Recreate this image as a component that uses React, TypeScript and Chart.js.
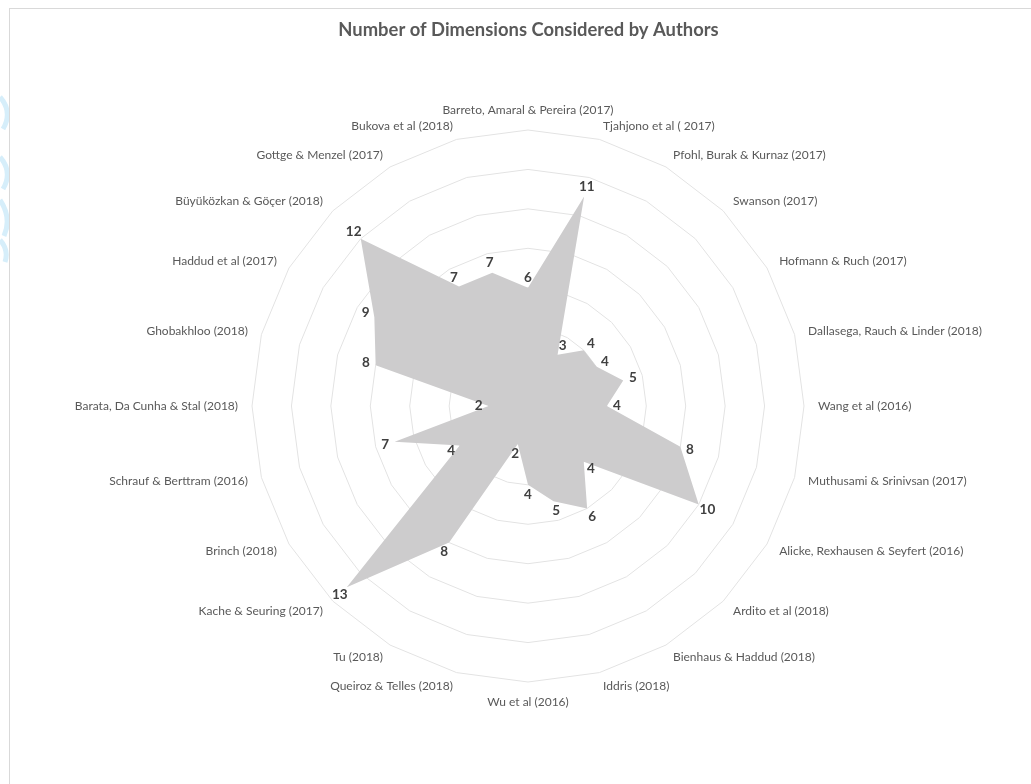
import React, { useEffect, useRef } from "react";
import { Chart, registerables } from "chart.js";

Chart.register(...registerables);

const chartTitle = "Number of Dimensions Considered by Authors";

const authors = [
  "Barreto, Amaral & Pereira (2017)",
  "Tjahjono et al ( 2017)",
  "Pfohl, Burak & Kurnaz (2017)",
  "Swanson (2017)",
  "Hofmann & Ruch (2017)",
  "Dallasega, Rauch & Linder (2018)",
  "Wang et al (2016)",
  "Muthusami & Srinivsan (2017)",
  "Alicke, Rexhausen & Seyfert (2016)",
  "Ardito et al (2018)",
  "Bienhaus & Haddud (2018)",
  "Iddris (2018)",
  "Wu et al (2016)",
  "Queiroz & Telles (2018)",
  "Tu (2018)",
  "Kache & Seuring (2017)",
  "Brinch (2018)",
  "Schrauf & Berttram (2016)",
  "Barata, Da Cunha & Stal (2018)",
  "Ghobakhloo (2018)",
  "Haddud et al (2017)",
  "Büyüközkan & Göçer (2018)",
  "Gottge & Menzel (2017)",
  "Bukova et al (2018)",
];

const dimensions = [6, 11, 3, 4, 4, 5, 4, 8, 10, 4, 6, 5, 4, 2, 8, 13, 4, 7, 2, 8, 9, 12, 7, 7];

const axisMin = 0;
const axisMax = 14;
const axisStep = 2;

const FONT = "Lato, 'Open Sans', sans-serif";

// Category labels drawn around the radial scale, Excel-style (vertically centred on the anchor)
const categoryLabels = {
  id: "categoryLabels",
  afterDraw(chart: any) {
    const scale = chart.scales.r;
    const ctx = chart.ctx;
    ctx.save();
    ctx.font = `12px ${FONT}`;
    ctx.fillStyle = "#595959";
    authors.forEach((text, i) => {
      const pos = scale.getPointPosition(i, scale.drawingArea + 14);
      const deg = Math.round((scale.getIndexAngle(i) * 180) / Math.PI) % 360;
      ctx.textAlign = deg === 0 || deg === 180 ? "center" : deg < 180 ? "left" : "right";
      ctx.textBaseline = deg === 0 ? "bottom" : deg === 180 ? "top" : "middle";
      ctx.fillText(text, pos.x, pos.y);
    });
    ctx.restore();
  },
};

const valueLabels = {
  id: "valueLabels",
  afterDatasetsDraw(chart: any) {
    const scale = chart.scales.r;
    const ctx = chart.ctx;
    const meta = chart.getDatasetMeta(0);
    ctx.save();
    ctx.font = `bold 13.5px ${FONT}`;
    ctx.fillStyle = "#404040";
    ctx.textAlign = "center";
    ctx.textBaseline = "middle";
    meta.data.forEach((pt: any, i: number) => {
      const dx = pt.x - scale.xCenter;
      const dy = pt.y - scale.yCenter;
      const len = Math.hypot(dx, dy) || 1;
      const off = 10;
      ctx.fillText(String(dimensions[i]), pt.x + (dx / len) * off, pt.y + (dy / len) * off);
    });
    ctx.restore();
  },
};

export default function App() {
  const canvasRef = useRef<HTMLCanvasElement | null>(null);

  useEffect(() => {
    if (!canvasRef.current) return;
    const chart = new Chart(canvasRef.current, {
      type: "radar",
      data: {
        labels: authors,
        datasets: [
          {
            label: "Dimensions",
            data: dimensions,
            backgroundColor: "#cdcccd",
            borderWidth: 0,
            borderColor: "rgba(0,0,0,0)",
            pointRadius: 0,
            pointHoverRadius: 0,
            fill: true,
          },
        ],
      },
      options: {
        animation: false,
        responsive: true,
        maintainAspectRatio: false,
        layout: { padding: { left: 26, right: 0, top: 0, bottom: 101 } },
        plugins: {
          legend: { display: false },
          tooltip: { enabled: false },
          title: {
            display: true,
            text: chartTitle,
            color: "#595959",
            font: { family: FONT, size: 18.4, weight: "bold" },
            padding: { top: 19, bottom: 89.9 },
          },
        },
        scales: {
          r: {
            min: axisMin,
            max: axisMax,
            ticks: { display: false, stepSize: axisStep },
            angleLines: { display: false },
            grid: { color: "#e3e3e3", lineWidth: 1 },
            pointLabels: { display: false },
          },
        },
      },
      plugins: [valueLabels, categoryLabels],
    });
    return () => chart.destroy();
  }, []);

  return (
    <div style={{ position: "fixed", left: 0, top: 0, width: 1031, height: 784, background: "#fff", overflow: "hidden" }}>
      <svg
        width={12}
        height={280}
        style={{ position: "absolute", left: 0, top: 0 }}
      >
        <path d="M0,97 Q13,112 3,129" fill="none" stroke="#d6eefa" strokeWidth={5} />
        <path d="M0,157 Q13,172 3,189" fill="none" stroke="#d6eefa" strokeWidth={5} />
        <path d="M0,200 Q12,218 4,236" fill="none" stroke="#d6eefa" strokeWidth={5} />
        <path d="M0,240 Q9,250 5,262" fill="none" stroke="#d6eefa" strokeWidth={5} />
      </svg>
      <div
        style={{
          position: "absolute",
          left: 9,
          top: 8,
          width: 1040,
          height: 800,
          borderLeft: "1px solid #d9d9d9",
          borderTop: "1px solid #d9d9d9",
          pointerEvents: "none",
        }}
      />
      <div style={{ position: "absolute", left: 0, top: 0, width: 1031, height: 784 }}>
        <canvas ref={canvasRef} />
      </div>
    </div>
  );
}
